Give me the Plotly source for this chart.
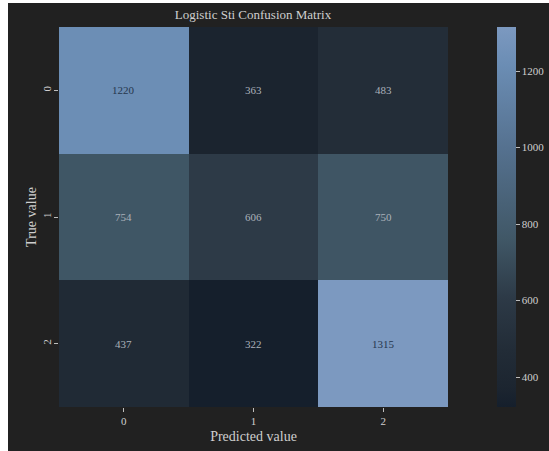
import plotly.graph_objects as go

# Confusion matrix counts (rows = true class, columns = predicted class)
classes = ["0", "1", "2"]
counts = [
    [1220, 363, 483],
    [754, 606, 750],
    [437, 322, 1315],
]
colorbar_ticks = [400, 600, 800, 1000, 1200]

W, H = 549, 451
L, R, T, B = 59, 101, 27, 44

colorscale = [
    [0.00, "#151f2c"],
    [0.05, "#1c2530"],
    [0.15, "#222c37"],
    [0.29, "#2d3a47"],
    [0.44, "#405766"],
    [0.68, "#55718f"],
    [0.90, "#6b8db4"],
    [1.00, "#7c99c0"],
]

zmin = min(min(r) for r in counts)
zmax = max(max(r) for r in counts)

pw = W - L - R
ph = H - T - B

fig = go.Figure(
    go.Heatmap(
        z=counts,
        x=classes,
        y=classes,
        colorscale=colorscale,
        zmin=zmin,
        zmax=zmax,
        showscale=True,
        colorbar=dict(
            x=(497 - L) / pw,
            xanchor="left",
            xpad=0,
            ypad=0,
            y=0.5,
            yanchor="middle",
            len=1.0,
            lenmode="fraction",
            thickness=19,
            thicknessmode="pixels",
            outlinewidth=0,
            tickvals=colorbar_ticks,
            ticks="outside",
            ticklen=4,
            tickcolor="#bdbdbd",
            tickfont=dict(family="Liberation Serif", size=11, color="#cfcfcf"),
        ),
        hoverinfo="z",
    )
)

# Cell labels: dark text on light cells, light text on dark cells
mid = (zmin + zmax) / 2
for i, row in enumerate(counts):
    for j, v in enumerate(row):
        fig.add_annotation(
            x=classes[j],
            y=classes[i],
            text=str(v),
            showarrow=False,
            font=dict(
                family="Liberation Serif",
                size=11,
                color="#26374d" if v > mid else "#aab1ba",
            ),
        )

# White edge strips around the dark canvas
fig.add_shape(
    type="rect", xref="paper", yref="paper",
    x0=-L / pw, x1=(8 - L) / pw, y0=-B / ph, y1=1 + T / ph,
    fillcolor="white", line_width=0, layer="above",
)
fig.add_shape(
    type="rect", xref="paper", yref="paper",
    x0=-L / pw, x1=1 + R / pw, y0=1 + (T - 3) / ph, y1=1 + T / ph,
    fillcolor="white", line_width=0, layer="above",
)

fig.update_layout(
    width=W,
    height=H,
    margin=dict(l=L, r=R, t=T, b=B, autoexpand=False),
    paper_bgcolor="#212121",
    plot_bgcolor="#212121",
    title=dict(
        text="Logistic Sti Confusion Matrix",
        x=253 / W,
        xanchor="center",
        y=1 - 14 / H,
        yanchor="middle",
        font=dict(family="Liberation Serif", size=13, color="#cfcfcf"),
    ),
    xaxis=dict(
        title=dict(
            text="Predicted value",
            font=dict(family="Liberation Serif", size=14, color="#cfcfcf"),
            standoff=4,
        ),
        ticks="outside",
        ticklen=4,
        tickcolor="#bdbdbd",
        tickfont=dict(family="Liberation Serif", size=11, color="#cfcfcf"),
        showgrid=False,
        zeroline=False,
        showline=False,
    ),
    yaxis=dict(
        title=dict(
            text="True value",
            font=dict(family="Liberation Serif", size=14, color="#cfcfcf"),
            standoff=0,
        ),
        autorange="reversed",
        ticks="outside",
        ticklen=4,
        tickcolor="#bdbdbd",
        tickangle=-90,
        ticklabelstandoff=-1,
        tickfont=dict(family="Liberation Serif", size=11, color="#cfcfcf"),
        showgrid=False,
        zeroline=False,
        showline=False,
    ),
)

fig.write_html("out.html")
